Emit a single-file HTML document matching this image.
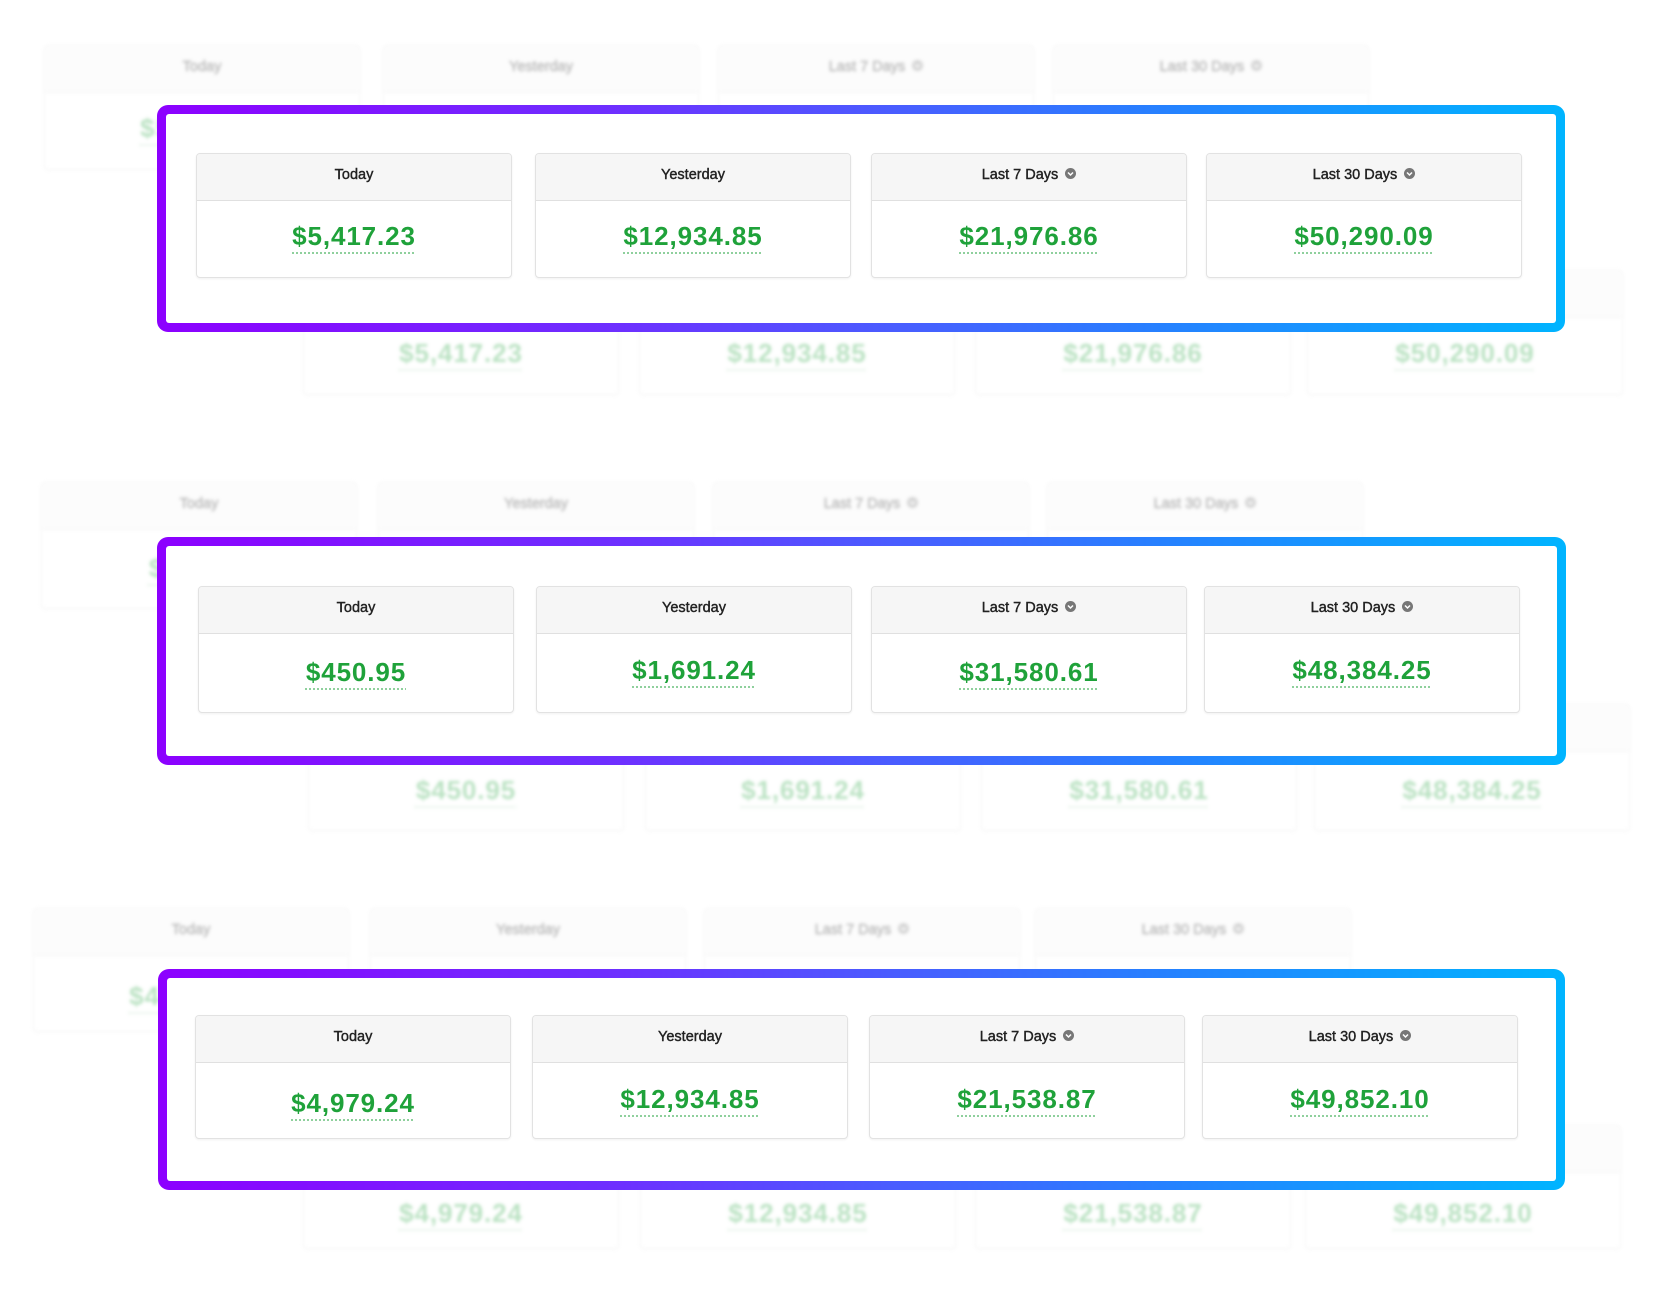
<!DOCTYPE html>
<html>
<head>
<meta charset="utf-8">
<style>
html,body{margin:0;padding:0;}
body{width:1669px;height:1298px;background:#fff;position:relative;overflow:hidden;font-family:"Liberation Sans",Arial,sans-serif;}
.row{position:absolute;width:1340px;height:135px;}
.card{position:absolute;top:0;left:0;width:316px;height:125px;box-sizing:border-box;border:1px solid #e2e2e2;border-radius:4px;background:#fff;box-shadow:0 1px 2px rgba(0,0,0,.06);}
.hd{height:46px;background:#f6f6f6;border-bottom:1px solid #e0e0e0;border-radius:3px 3px 0 0;text-align:center;line-height:43px;font-size:14.5px;color:#222;-webkit-text-stroke:0.4px #222;white-space:nowrap;}
.hd svg{display:inline-block;vertical-align:middle;margin-left:7px;margin-top:-3px;}
.val{position:absolute;left:0;right:0;height:30px;line-height:30px;text-align:center;font-weight:bold;font-size:26px;letter-spacing:.9px;color:#1fa23a;white-space:nowrap;}
.val span{text-decoration:underline dotted #8fd09d;text-decoration-thickness:2px;text-underline-offset:7px;text-decoration-skip-ink:none;}
.bg{filter:blur(1.6px);opacity:.3;}
.r1 .card{height:125px}.r1 .val{top:67px}
.r2 .card{height:127px}.r2 .val{top:70px}
.r3 .card{height:124px}.r3 .val{top:72px}
.frame{position:absolute;border-radius:11px;background:linear-gradient(90deg,#8c00ff 0%,#6d30ff 33%,#4a5cff 52%,#2582ff 72%,#00b4ff 100%);}
.frame::after{content:"";position:absolute;left:9px;top:9px;right:9px;bottom:9px;background:#fff;border-radius:3px;}
</style>
</head>
<body>

<!-- ===== Section 1 background layers ===== -->
<div class="row r1 bg" style="left:44px;top:45px;">
  <div class="card" style="left:0"><div class="hd">Today</div><div class="val"><span>$5,417.23</span></div></div>
  <div class="card" style="left:339px"><div class="hd">Yesterday</div><div class="val"><span>$12,934.85</span></div></div>
  <div class="card" style="left:674px"><div class="hd">Last 7 Days<svg width="11" height="11" viewBox="0 0 11 11"><circle cx="5.5" cy="5.5" r="5.5" fill="#777"/><polyline points="3,4.5 5.5,7 8,4.5" fill="none" stroke="#fff" stroke-width="1.5"/></svg></div><div class="val"><span>$21,976.86</span></div></div>
  <div class="card" style="left:1009px"><div class="hd">Last 30 Days<svg width="11" height="11" viewBox="0 0 11 11"><circle cx="5.5" cy="5.5" r="5.5" fill="#777"/><polyline points="3,4.5 5.5,7 8,4.5" fill="none" stroke="#fff" stroke-width="1.5"/></svg></div><div class="val"><span>$50,290.09</span></div></div>
</div>
<div class="row r1 bg" style="left:303px;top:270px;">
  <div class="card" style="left:0"><div class="hd">Today</div><div class="val"><span>$5,417.23</span></div></div>
  <div class="card" style="left:336px"><div class="hd">Yesterday</div><div class="val"><span>$12,934.85</span></div></div>
  <div class="card" style="left:672px"><div class="hd">Last 7 Days<svg width="11" height="11" viewBox="0 0 11 11"><circle cx="5.5" cy="5.5" r="5.5" fill="#777"/><polyline points="3,4.5 5.5,7 8,4.5" fill="none" stroke="#fff" stroke-width="1.5"/></svg></div><div class="val"><span>$21,976.86</span></div></div>
  <div class="card" style="left:1004px"><div class="hd">Last 30 Days<svg width="11" height="11" viewBox="0 0 11 11"><circle cx="5.5" cy="5.5" r="5.5" fill="#777"/><polyline points="3,4.5 5.5,7 8,4.5" fill="none" stroke="#fff" stroke-width="1.5"/></svg></div><div class="val"><span>$50,290.09</span></div></div>
</div>

<!-- ===== Section 2 background layers ===== -->
<div class="row r2 bg" style="left:41px;top:482px;">
  <div class="card" style="left:0"><div class="hd">Today</div><div class="val"><span>$450.95</span></div></div>
  <div class="card" style="left:337px"><div class="hd">Yesterday</div><div class="val"><span>$1,691.24</span></div></div>
  <div class="card" style="left:672px"><div class="hd">Last 7 Days<svg width="11" height="11" viewBox="0 0 11 11"><circle cx="5.5" cy="5.5" r="5.5" fill="#777"/><polyline points="3,4.5 5.5,7 8,4.5" fill="none" stroke="#fff" stroke-width="1.5"/></svg></div><div class="val"><span>$31,580.61</span></div></div>
  <div class="card" style="left:1006px"><div class="hd">Last 30 Days<svg width="11" height="11" viewBox="0 0 11 11"><circle cx="5.5" cy="5.5" r="5.5" fill="#777"/><polyline points="3,4.5 5.5,7 8,4.5" fill="none" stroke="#fff" stroke-width="1.5"/></svg></div><div class="val"><span>$48,384.25</span></div></div>
</div>
<div class="row r2 bg" style="left:308px;top:704px;">
  <div class="card" style="left:0"><div class="hd">Today</div><div class="val"><span>$450.95</span></div></div>
  <div class="card" style="left:337px"><div class="hd">Yesterday</div><div class="val"><span>$1,691.24</span></div></div>
  <div class="card" style="left:673px"><div class="hd">Last 7 Days<svg width="11" height="11" viewBox="0 0 11 11"><circle cx="5.5" cy="5.5" r="5.5" fill="#777"/><polyline points="3,4.5 5.5,7 8,4.5" fill="none" stroke="#fff" stroke-width="1.5"/></svg></div><div class="val"><span>$31,580.61</span></div></div>
  <div class="card" style="left:1006px"><div class="hd">Last 30 Days<svg width="11" height="11" viewBox="0 0 11 11"><circle cx="5.5" cy="5.5" r="5.5" fill="#777"/><polyline points="3,4.5 5.5,7 8,4.5" fill="none" stroke="#fff" stroke-width="1.5"/></svg></div><div class="val"><span>$48,384.25</span></div></div>
</div>

<!-- ===== Section 3 background layers ===== -->
<div class="row r3 bg" style="left:33px;top:908px;">
  <div class="card" style="left:0"><div class="hd">Today</div><div class="val"><span>$4,979.24</span></div></div>
  <div class="card" style="left:337px"><div class="hd">Yesterday</div><div class="val"><span>$12,934.85</span></div></div>
  <div class="card" style="left:671px"><div class="hd">Last 7 Days<svg width="11" height="11" viewBox="0 0 11 11"><circle cx="5.5" cy="5.5" r="5.5" fill="#777"/><polyline points="3,4.5 5.5,7 8,4.5" fill="none" stroke="#fff" stroke-width="1.5"/></svg></div><div class="val"><span>$21,538.87</span></div></div>
  <div class="card" style="left:1002px"><div class="hd">Last 30 Days<svg width="11" height="11" viewBox="0 0 11 11"><circle cx="5.5" cy="5.5" r="5.5" fill="#777"/><polyline points="3,4.5 5.5,7 8,4.5" fill="none" stroke="#fff" stroke-width="1.5"/></svg></div><div class="val"><span>$49,852.10</span></div></div>
</div>
<div class="row r3 bg" style="left:303px;top:1125px;">
  <div class="card" style="left:0"><div class="hd">Today</div><div class="val"><span>$4,979.24</span></div></div>
  <div class="card" style="left:337px"><div class="hd">Yesterday</div><div class="val"><span>$12,934.85</span></div></div>
  <div class="card" style="left:672px"><div class="hd">Last 7 Days<svg width="11" height="11" viewBox="0 0 11 11"><circle cx="5.5" cy="5.5" r="5.5" fill="#777"/><polyline points="3,4.5 5.5,7 8,4.5" fill="none" stroke="#fff" stroke-width="1.5"/></svg></div><div class="val"><span>$21,538.87</span></div></div>
  <div class="card" style="left:1002px"><div class="hd">Last 30 Days<svg width="11" height="11" viewBox="0 0 11 11"><circle cx="5.5" cy="5.5" r="5.5" fill="#777"/><polyline points="3,4.5 5.5,7 8,4.5" fill="none" stroke="#fff" stroke-width="1.5"/></svg></div><div class="val"><span>$49,852.10</span></div></div>
</div>

<!-- ===== Frames ===== -->
<div class="frame" style="left:157px;top:105px;width:1408px;height:227px;"></div>
<div class="frame" style="left:157px;top:537px;width:1409px;height:228px;"></div>
<div class="frame" style="left:158px;top:969px;width:1407px;height:221px;"></div>

<!-- ===== Section 1 main ===== -->
<div class="row r1" style="left:196px;top:153px;">
  <div class="card" style="left:0"><div class="hd">Today</div><div class="val"><span>$5,417.23</span></div></div>
  <div class="card" style="left:339px"><div class="hd">Yesterday</div><div class="val"><span>$12,934.85</span></div></div>
  <div class="card" style="left:675px"><div class="hd">Last 7 Days<svg width="11" height="11" viewBox="0 0 11 11"><circle cx="5.5" cy="5.5" r="5.5" fill="#777"/><polyline points="3,4.5 5.5,7 8,4.5" fill="none" stroke="#fff" stroke-width="1.5"/></svg></div><div class="val"><span>$21,976.86</span></div></div>
  <div class="card" style="left:1010px"><div class="hd">Last 30 Days<svg width="11" height="11" viewBox="0 0 11 11"><circle cx="5.5" cy="5.5" r="5.5" fill="#777"/><polyline points="3,4.5 5.5,7 8,4.5" fill="none" stroke="#fff" stroke-width="1.5"/></svg></div><div class="val"><span>$50,290.09</span></div></div>
</div>

<!-- ===== Section 2 main ===== -->
<div class="row r2" style="left:198px;top:586px;">
  <div class="card" style="left:0"><div class="hd">Today</div><div class="val"><span>$450.95</span></div></div>
  <div class="card" style="left:338px"><div class="hd">Yesterday</div><div class="val" style="top:68px"><span>$1,691.24</span></div></div>
  <div class="card" style="left:673px"><div class="hd">Last 7 Days<svg width="11" height="11" viewBox="0 0 11 11"><circle cx="5.5" cy="5.5" r="5.5" fill="#777"/><polyline points="3,4.5 5.5,7 8,4.5" fill="none" stroke="#fff" stroke-width="1.5"/></svg></div><div class="val"><span>$31,580.61</span></div></div>
  <div class="card" style="left:1006px"><div class="hd">Last 30 Days<svg width="11" height="11" viewBox="0 0 11 11"><circle cx="5.5" cy="5.5" r="5.5" fill="#777"/><polyline points="3,4.5 5.5,7 8,4.5" fill="none" stroke="#fff" stroke-width="1.5"/></svg></div><div class="val" style="top:68px"><span>$48,384.25</span></div></div>
</div>

<!-- ===== Section 3 main ===== -->
<div class="row r3" style="left:195px;top:1015px;">
  <div class="card" style="left:0"><div class="hd">Today</div><div class="val"><span>$4,979.24</span></div></div>
  <div class="card" style="left:337px"><div class="hd">Yesterday</div><div class="val" style="top:68px"><span>$12,934.85</span></div></div>
  <div class="card" style="left:674px"><div class="hd">Last 7 Days<svg width="11" height="11" viewBox="0 0 11 11"><circle cx="5.5" cy="5.5" r="5.5" fill="#777"/><polyline points="3,4.5 5.5,7 8,4.5" fill="none" stroke="#fff" stroke-width="1.5"/></svg></div><div class="val" style="top:68px"><span>$21,538.87</span></div></div>
  <div class="card" style="left:1007px"><div class="hd">Last 30 Days<svg width="11" height="11" viewBox="0 0 11 11"><circle cx="5.5" cy="5.5" r="5.5" fill="#777"/><polyline points="3,4.5 5.5,7 8,4.5" fill="none" stroke="#fff" stroke-width="1.5"/></svg></div><div class="val" style="top:68px"><span>$49,852.10</span></div></div>
</div>

</body>
</html>
